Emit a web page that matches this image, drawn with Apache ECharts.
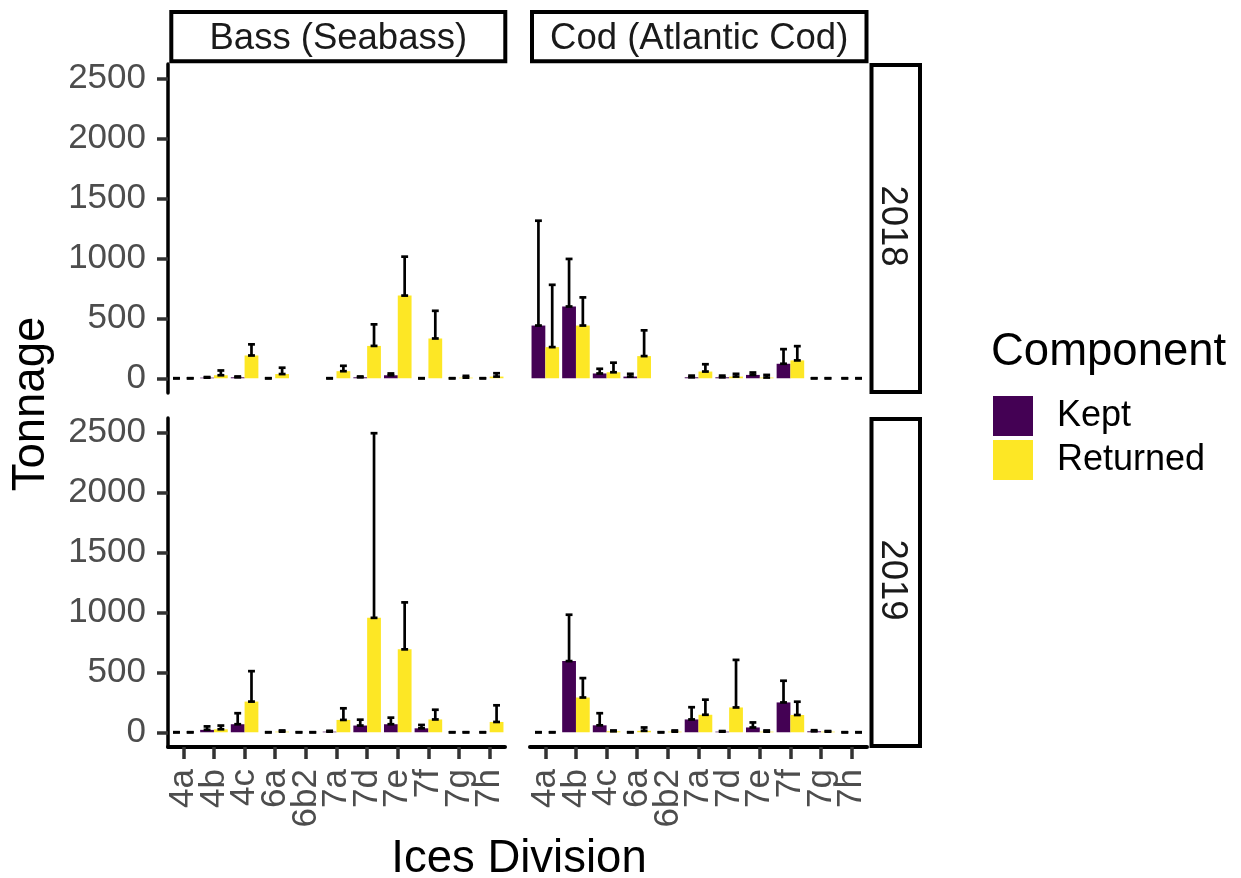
<!DOCTYPE html>
<html>
<head>
<meta charset="utf-8">
<title>Tonnage by ICES division</title>
<script src="https://cdn.jsdelivr.net/npm/echarts@6/dist/echarts.min.js"></script>
<style>
  html, body { margin: 0; padding: 0; background: #ffffff; }
  #chart { width: 1241px; height: 878px; }
</style>
</head>
<body>
<div id="chart"></div>
<script>
// ICES divisions on the x axis of every panel
const categories = ['4a', '4b', '4c', '6a', '6b2', '7a', '7d', '7e', '7f', '7g', '7h'];
const species = ['Bass (Seabass)', 'Cod (Atlantic Cod)'];
const years = ['2018', '2019'];
const yTicks = [0, 500, 1000, 1500, 2000, 2500];

// Estimated tonnage (null = no record) and the top of each error bar
const bass2018Kept     = [0, 5, 8, 0, null, 0, 8, 25, 0, 0, 0];
const bass2018KeptHi   = [0, 10, 15, 0, null, 0, 15, 40, 0, 0, 0];
const bass2018Ret      = [0, 25, 190, 35, null, 59, 270, 690, 332, 5, 14];
const bass2018RetHi    = [0, 65, 283, 88, null, 104, 450, 1015, 563, 20, 42];

const cod2018Kept      = [440, 599, 40, 14, null, 8, 8, 28, 121, 0, 0];
const cod2018KeptHi    = [1315, 996, 79, 37, null, 22, 22, 48, 243, 0, 0];
const cod2018Ret       = [260, 440, 50, 185, null, 56, 14, 6, 149, 0, 0];
const cod2018RetHi     = [780, 675, 130, 400, null, 117, 37, 28, 268, 0, 0];

const bass2019Kept     = [0, 20, 67, 0, 0, 5, 56, 67, 33, 0, 0];
const bass2019KeptHi   = [0, 49, 159, 0, 0, 12, 105, 122, 61, 0, 0];
const bass2019Ret      = [0, 25, 256, 5, 0, 103, 955, 692, 107, 0, 86];
const bass2019RetHi    = [0, 56, 510, 15, 0, 200, 2496, 1084, 188, 0, 225];

const cod2019Kept      = [0, 594, 58, 0, 0, 107, 5, 40, 249, 8, 0];
const cod2019KeptHi    = [0, 981, 159, 0, 0, 209, 10, 82, 430, 17, 0];
const cod2019Ret       = [0, 290, 8, 12, 5, 146, 207, 5, 144, 5, 0];
const cod2019RetHi     = [0, 452, 15, 40, 15, 272, 604, 15, 255, 10, 0];

const KEPT_COLOR = '#440154';
const RETURNED_COLOR = '#FDE725';
const FONT = '"Liberation Sans", Arial, sans-serif';

// facet layout (row = year, col = species)
const PANEL_W = 337, PANEL_H = 329;
const colLeft = [168, 530];
const rowTop = [64, 418];
const Y_MIN = -123, Y_MAX = 2623;

const panels = [
  { row: 0, col: 0, kept: bass2018Kept, keptHi: bass2018KeptHi, ret: bass2018Ret, retHi: bass2018RetHi },
  { row: 0, col: 1, kept: cod2018Kept,  keptHi: cod2018KeptHi,  ret: cod2018Ret,  retHi: cod2018RetHi },
  { row: 1, col: 0, kept: bass2019Kept, keptHi: bass2019KeptHi, ret: bass2019Ret, retHi: bass2019RetHi },
  { row: 1, col: 1, kept: cod2019Kept,  keptHi: cod2019KeptHi,  ret: cod2019Ret,  retHi: cod2019RetHi }
];

function errorData(values, highs, side) {
  const out = [];
  values.forEach((v, i) => {
    if (v !== null) out.push([i, v, highs[i], side]);
  });
  return out;
}

// error bar: vertical line from value to upper bound, caps at both ends
function renderErrorBar(params, api) {
  const idx = api.value(0);
  const lo = api.coord([idx, api.value(1)]);
  const hi = api.coord([idx, api.value(2)]);
  const band = api.size([1, 0])[0];
  const x = lo[0] + api.value(3) * band * 0.225;
  const cap = band * 0.1125;
  const style = { stroke: '#000000', lineWidth: 2.7, fill: null };
  return {
    type: 'group',
    children: [
      { type: 'line', shape: { x1: x, y1: lo[1], x2: x, y2: hi[1] }, style: style },
      { type: 'line', shape: { x1: x - cap, y1: lo[1], x2: x + cap, y2: lo[1] }, style: style },
      { type: 'line', shape: { x1: x - cap, y1: hi[1], x2: x + cap, y2: hi[1] }, style: style }
    ]
  };
}

const grids = [], xAxes = [], yAxes = [], series = [];
panels.forEach((p, g) => {
  const bottomRow = p.row === 1;
  const leftCol = p.col === 0;
  grids.push({
    left: colLeft[p.col], top: rowTop[p.row], width: PANEL_W, height: PANEL_H,
    containLabel: false, outerBoundsMode: 'none'
  });
  xAxes.push({
    type: 'category', gridIndex: g, data: categories, boundaryGap: true,
    axisLine: { show: bottomRow, onZero: false, lineStyle: { color: '#000000', width: 4 } },
    axisTick: { show: bottomRow, alignWithLabel: true, length: 12, lineStyle: { color: '#333333', width: 3.5 } },
    axisLabel: {
      show: bottomRow, interval: 0, rotate: 90, margin: 22,
      fontSize: 35, fontFamily: FONT, color: '#4d4d4d'
    },
    splitLine: { show: false }
  });
  yAxes.push({
    type: 'value', gridIndex: g, min: Y_MIN, max: Y_MAX,
    axisLine: { show: leftCol, onZero: false, lineStyle: { color: '#000000', width: 3.5 } },
    axisTick: { show: leftCol, length: 11, customValues: yTicks, lineStyle: { color: '#333333', width: 3.5 } },
    axisLabel: {
      show: leftCol, customValues: yTicks, margin: 22,
      fontSize: 35, fontFamily: FONT, color: '#4d4d4d',
      formatter: v => String(v)
    },
    splitLine: { show: false }
  });
  series.push({
    type: 'bar', name: 'Kept', xAxisIndex: g, yAxisIndex: g,
    data: p.kept, barGap: '0%', barCategoryGap: '10%',
    itemStyle: { color: KEPT_COLOR }, z: 2
  });
  series.push({
    type: 'bar', name: 'Returned', xAxisIndex: g, yAxisIndex: g,
    data: p.ret, barGap: '0%', barCategoryGap: '10%',
    itemStyle: { color: RETURNED_COLOR }, z: 2
  });
  series.push({
    type: 'custom', name: 'errors-' + g, xAxisIndex: g, yAxisIndex: g,
    data: errorData(p.kept, p.keptHi, -1).concat(errorData(p.ret, p.retHi, 1)),
    renderItem: renderErrorBar, z: 3, silent: true, clip: false
  });
});

// facet strips
const stripText = { font: '36.5px ' + FONT, fill: '#1a1a1a', align: 'center', verticalAlign: 'middle' };
const stripBox = { fill: '#ffffff', stroke: '#000000', lineWidth: 4 };
const graphics = [
  { type: 'rect', shape: { x: 171.3, y: 12, width: 334, height: 49.3 }, style: stripBox },
  { type: 'rect', shape: { x: 532, y: 12, width: 334.5, height: 49.3 }, style: stripBox },
  { type: 'rect', shape: { x: 871.5, y: 65, width: 48.5, height: 327 }, style: stripBox },
  { type: 'rect', shape: { x: 871.5, y: 419, width: 48.5, height: 327 }, style: stripBox },
  { type: 'text', x: 338.3, y: 39, style: Object.assign({ text: species[0] }, stripText) },
  { type: 'text', x: 699.2, y: 39, style: Object.assign({ text: species[1] }, stripText) },
  { type: 'text', x: 892, y: 226, rotation: -Math.PI / 2, style: Object.assign({ text: years[0] }, stripText) },
  { type: 'text', x: 892, y: 580, rotation: -Math.PI / 2, style: Object.assign({ text: years[1] }, stripText) },
  // axis titles
  { type: 'text', x: 31.4, y: 404, rotation: Math.PI / 2,
    style: { text: 'Tonnage', font: '45.5px ' + FONT, fill: '#000000', align: 'center', verticalAlign: 'middle' } },
  { type: 'text', x: 519, y: 859,
    style: { text: 'Ices Division', font: '45.5px ' + FONT, fill: '#000000', align: 'center', verticalAlign: 'middle' } },
  // legend title
  { type: 'text', x: 991, y: 352,
    style: { text: 'Component', font: '45.5px ' + FONT, fill: '#000000', align: 'left', verticalAlign: 'middle' } }
];

const chart = echarts.init(document.getElementById('chart'), null, { renderer: 'canvas' });
chart.setOption({
  animation: false,
  backgroundColor: '#ffffff',
  grid: grids,
  xAxis: xAxes,
  yAxis: yAxes,
  series: series,
  legend: {
    data: [{ name: 'Kept', icon: 'rect' }, { name: 'Returned', icon: 'rect' }],
    orient: 'vertical', left: 993, top: 396, padding: 0,
    itemWidth: 40, itemHeight: 40, itemGap: 4,
    selectedMode: false,
    textStyle: { fontSize: 36, fontFamily: FONT, color: '#000000', padding: [6, 0, 0, 19] }
  },
  graphic: graphics
});
</script>
</body>
</html>
